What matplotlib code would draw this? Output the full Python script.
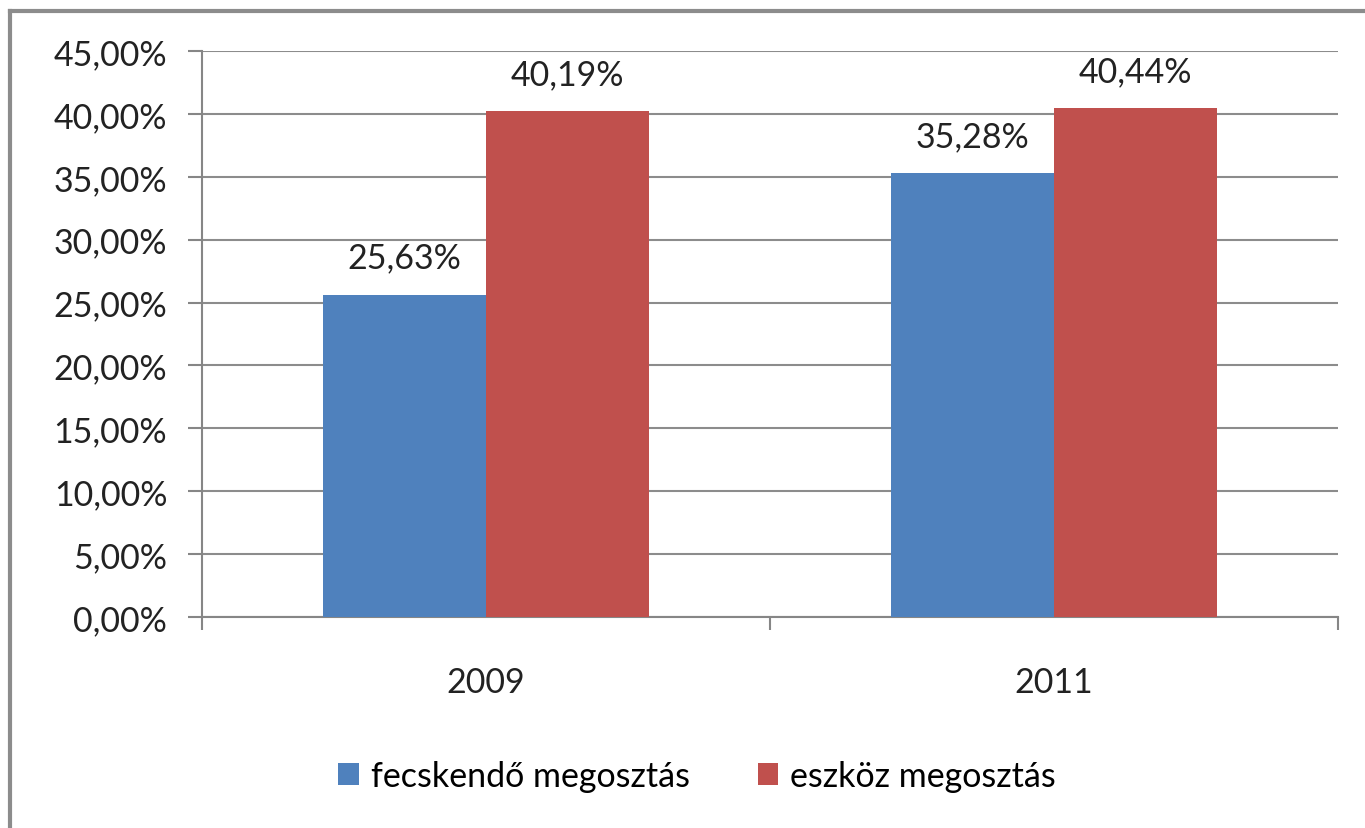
import matplotlib.pyplot as plt
import numpy as np
from matplotlib.lines import Line2D

years = ["2009", "2011"]
fecskendo = [25.63, 35.28]
eszkoz = [40.19, 40.44]
series_names = ["fecskendő megosztás", "eszköz megosztás"]

plt.rcParams['font.family'] = ['Lato', 'DejaVu Sans']

W, H = 1365, 829
fig = plt.figure(figsize=(W / 100, H / 100), dpi=100)
fig.patch.set_facecolor("white")

# outer chart border (only left and top visible in the crop)
fig.add_artist(Line2D([10 / W, 10 / W], [0, 1 - 12 / H], transform=fig.transFigure,
                      color="#8c8c8c", lw=3))
fig.add_artist(Line2D([10 / W, 1], [1 - 12 / H, 1 - 12 / H], transform=fig.transFigure,
                      color="#8c8c8c", lw=3))

ax = fig.add_axes([202 / W, 1 - 618 / H, (1338 - 202) / W, (618 - 52) / H])

x = np.arange(len(years))
w = 0.287
blue = "#4F81BD"
red = "#C0504D"
FS = 24.5
b1 = ax.bar(x - w / 2, fecskendo, w, color=blue, label=series_names[0], zorder=3)
b2 = ax.bar(x + w / 2, eszkoz, w, color=red, label=series_names[1], zorder=3)

for bars, vals in [(b1, fecskendo), (b2, eszkoz)]:
    for rect, v in zip(bars, vals):
        ax.text(rect.get_x() + rect.get_width() / 2, v + 1.7,
                f"{v:.2f}%".replace(".", ","), ha="center", va="bottom",
                fontsize=FS, color="#222222")

ax.set_xlim(-0.5, 1.5)
ax.set_ylim(0, 45)
yt = np.arange(0, 46, 5)
ax.set_yticks(yt)
ax.set_yticklabels([f"{t:.2f}%".replace(".", ",") for t in yt], fontsize=FS, color="#222222")
ax.set_xticks(x)
ax.set_xticklabels(years, fontsize=FS, color="#222222")
ax.set_xticks([-0.5, 0.5, 1.5], minor=True)
ax.tick_params(axis="x", which="major", length=0, pad=35)
ax.tick_params(axis="x", which="minor", length=9, color="#868686", width=1.5)
ax.tick_params(axis="y", length=10, color="#868686", width=1.5, pad=15)

ax.grid(axis="y", color="#8c8c8c", lw=1.5, zorder=0)
for s in ["top", "right"]:
    ax.spines[s].set_visible(False)
for s in ["left", "bottom"]:
    ax.spines[s].set_color("#868686")
    ax.spines[s].set_linewidth(1.5)

fig.legend(handles=[b1, b2], loc="center", bbox_to_anchor=(697 / W, 1 - 777 / H),
           ncol=2, frameon=False, fontsize=FS, handlelength=0.6, handleheight=0.6,
           handletextpad=0.35, columnspacing=2.0)

fig.savefig("out.png", dpi=100)
